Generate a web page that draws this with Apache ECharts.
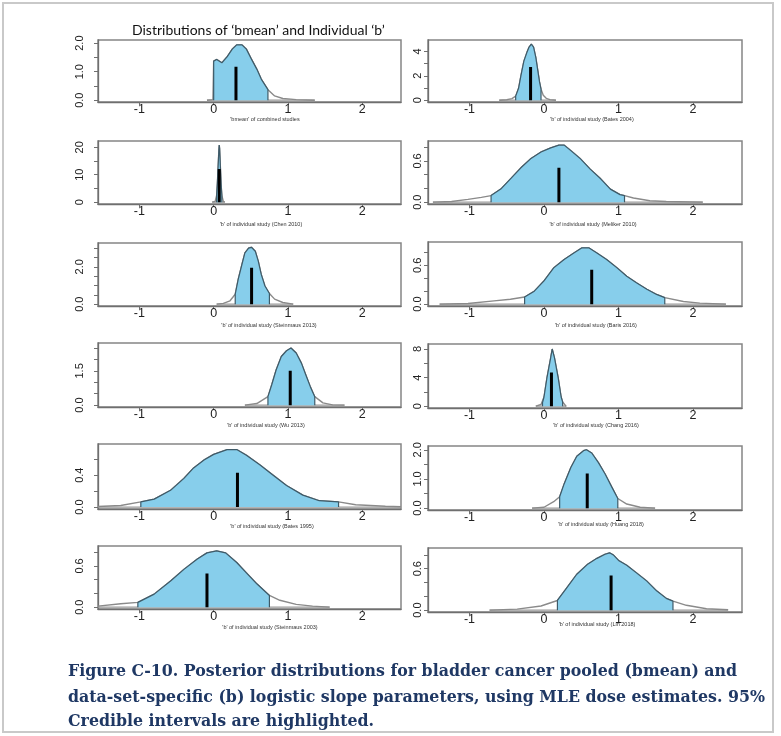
<!DOCTYPE html>
<html>
<head>
<meta charset="utf-8">
<script src="https://cdn.jsdelivr.net/npm/echarts@6/dist/echarts.min.js"></script>
<style>
html, body { margin: 0; padding: 0; background: #fff; }
#chart { width: 781px; height: 736px; }
</style>
</head>
<body>
<div id="chart"></div>
<script>
// posterior densities: [b, density]
const bmeanDens = [[-0.09,0],[-0.01,0.02],[0,1.37],[0.04,1.43],[0.11,1.31],[0.18,1.52],[0.25,1.79],[0.31,1.94],[0.38,1.94],[0.44,1.79],[0.51,1.43],[0.58,1.09],[0.64,0.74],[0.73,0.37],[0.82,0.15],[0.93,0.06],[1.11,0.02],[1.36,0]];
const bates2004Dens = [[-0.6,0],[-0.5,0.04],[-0.43,0.13],[-0.38,0.33],[-0.34,1.0],[-0.31,2.0],[-0.27,3.2],[-0.23,3.9],[-0.2,4.35],[-0.17,4.59],[-0.14,4.35],[-0.11,3.5],[-0.08,2.3],[-0.06,1.5],[-0.04,0.9],[-0.01,0.4],[0.03,0.15],[0.08,0.05],[0.16,0]];
const chen2010Dens = [[-0.02,0],[0.02,0.3],[0.04,2.5],[0.05,7],[0.06,13],[0.07,19],[0.075,20.8],[0.08,19.5],[0.09,13],[0.1,6.5],[0.11,2.5],[0.13,0.3],[0.15,0]];
const meliker2010Dens = [[-1.49,0],[-1.24,0.01],[-1.02,0.04],[-0.84,0.07],[-0.71,0.096],[-0.58,0.19],[-0.44,0.35],[-0.31,0.5],[-0.18,0.63],[-0.04,0.73],[0.09,0.79],[0.2,0.83],[0.27,0.83],[0.36,0.75],[0.49,0.63],[0.62,0.48],[0.76,0.34],[0.89,0.19],[1.02,0.11],[1.08,0.096],[1.2,0.06],[1.42,0.02],[1.64,0.01],[2.13,0]];
const steinmaus2013Dens = [[0.04,0],[0.13,0.04],[0.22,0.18],[0.29,0.53],[0.33,1.33],[0.38,2.12],[0.42,2.74],[0.47,3.0],[0.51,3.04],[0.56,2.83],[0.6,2.3],[0.64,1.59],[0.69,0.97],[0.75,0.57],[0.82,0.27],[0.93,0.09],[1.07,0]];
const baris2016Dens = [[-1.4,0],[-1.02,0.01],[-0.67,0.05],[-0.45,0.075],[-0.26,0.11],[-0.13,0.2],[0,0.36],[0.13,0.56],[0.27,0.69],[0.4,0.79],[0.51,0.87],[0.6,0.87],[0.71,0.79],[0.84,0.69],[0.98,0.56],[1.11,0.43],[1.24,0.33],[1.38,0.23],[1.51,0.15],[1.62,0.1],[1.87,0.04],[2.09,0.015],[2.44,0]];
const wu2013Dens = [[0.42,0],[0.58,0.07],[0.73,0.37],[0.78,0.88],[0.84,1.54],[0.91,2.13],[0.98,2.38],[1.04,2.5],[1.11,2.28],[1.18,1.84],[1.24,1.32],[1.3,0.81],[1.36,0.37],[1.47,0.1],[1.6,0.01],[1.76,0]];
const chang2016Dens = [[-0.11,0],[-0.04,0.23],[-0.02,0.5],[0,1.28],[0.04,4.0],[0.09,6.8],[0.11,8.0],[0.14,6.8],[0.19,4.0],[0.23,1.28],[0.25,0.6],[0.29,0.05],[0.3,0]];
const bates1995Dens = [[-1.556,0.008],[-1.25,0.02],[-0.98,0.065],[-0.8,0.1],[-0.58,0.21],[-0.4,0.36],[-0.27,0.49],[-0.13,0.59],[0,0.66],[0.18,0.72],[0.31,0.72],[0.44,0.65],[0.62,0.53],[0.8,0.4],[0.98,0.27],[1.2,0.15],[1.42,0.08],[1.68,0.065],[1.91,0.03],[2.31,0.01],[2.52,0.005]];
const huang2018Dens = [[-0.16,0],[0,0.03],[0.13,0.22],[0.21,0.39],[0.27,0.83],[0.36,1.39],[0.44,1.78],[0.53,1.97],[0.57,2.0],[0.64,1.89],[0.73,1.56],[0.82,1.17],[0.91,0.72],[0.99,0.33],[1.11,0.14],[1.29,0.03],[1.49,0]];
const steinmaus2003Dens = [[-1.556,0.015],[-1.25,0.05],[-1.02,0.07],[-0.8,0.19],[-0.58,0.38],[-0.4,0.55],[-0.22,0.7],[-0.09,0.79],[0.04,0.82],[0.16,0.79],[0.31,0.65],[0.44,0.5],[0.58,0.34],[0.75,0.17],[0.89,0.1],[1.11,0.04],[1.33,0.015],[1.56,0]];
const lin2018Dens = [[-0.73,0],[-0.36,0.015],[-0.04,0.06],[0.18,0.14],[0.31,0.33],[0.44,0.52],[0.58,0.66],[0.71,0.75],[0.82,0.81],[0.88,0.83],[0.93,0.8],[1.0,0.72],[1.11,0.65],[1.24,0.54],[1.38,0.42],[1.51,0.28],[1.64,0.17],[1.73,0.13],[1.91,0.07],[2.18,0.02],[2.47,0.005]];

// 95% credible intervals [lo, hi]
const ciBounds = [[0,0.73],[-0.38,-0.04],[0.04,0.11],[-0.71,1.08],[0.29,0.75],[-0.26,1.62],[0.73,1.36],[-0.02,0.25],[-0.98,1.68],[0.21,0.99],[-1.02,0.75],[0.18,1.73]];
// black marker line [b, height]
const midLines = [[0.30,1.17],[-0.18,2.72],[0.075,12.1],[0.2,0.5],[0.51,1.95],[0.64,0.53],[1.03,1.5],[0.1,4.7],[0.32,0.43],[0.58,1.19],[-0.09,0.49],[0.9,0.5]];
// top of each panel's y range
const yTops = [2.11,4.93,22.3,0.89,3.27,0.96,2.72,8.7,0.79,2.13,0.89,0.9];
// y ticks and labelled ticks
const yTickSets = [[0,0.5,1,1.5,2],[0,1,2,3,4],[0,5,10,15,20],[0,0.2,0.4,0.6,0.8],[0,0.5,1,1.5,2,2.5,3],[0,0.2,0.4,0.6,0.8],[0,0.5,1,1.5,2,2.5],[0,2,4,6,8],[0,0.2,0.4,0.6],[0,0.5,1,1.5,2],[0,0.2,0.4,0.6,0.8],[0,0.2,0.4,0.6,0.8]];
const yLabelSets = [['0.0','1.0','2.0'],['0','2','4'],['0','10','20'],['0.0','0.6'],['0.0','2.0'],['0.0','0.6'],['0.0','1.5'],['0','4','8'],['0.0','0.4'],['0.0','1.0','2.0'],['0.0','0.6'],['0.0','0.6']];
const xTicks = [-1, 0, 1, 2];
const panelNames = [
  "'bmean' of combined studies", "'b' of individual study (Bates 2004)",
  "'b' of individual study (Chen 2010)", "'b' of individual study (Meliker 2010)",
  "'b' of individual study (Steinmaus 2013)", "'b' of individual study (Baris 2016)",
  "'b' of individual study (Wu 2013)", "'b' of individual study (Chang 2016)",
  "'b' of individual study (Bates 1995)", "'b' of individual study (Huang 2018)",
  "'b' of individual study (Steinmaus 2003)", "'b' of individual study (Lin 2018)"
];
const densities = [bmeanDens, bates2004Dens, chen2010Dens, meliker2010Dens, steinmaus2013Dens, baris2016Dens,
  wu2013Dens, chang2016Dens, bates1995Dens, huang2018Dens, steinmaus2003Dens, lin2018Dens];

const mainTitle = 'Distributions of \u2018bmean\u2019 and Individual \u2018b\u2019';
const captionLines = [
  'Figure C-10. Posterior distributions for bladder cancer pooled (bmean) and',
  'data-set-specific (b) logistic slope parameters, using MLE dose estimates. 95%',
  'Credible intervals are highlighted.'
];

// panel boxes (pixels)
const rowTopL = [40,141,243,343,444,546], rowBotL = [102,204,306,407,509,609];
const rowTopR = [40,141,242,344,446,548], rowBotR = [102,204,306,408,510,612];
const nameYL = [119,224,325,425,526,627], nameYR = [119,224,325,425,524,624];
const nameXL = [265,261,269,266,272,270], nameXR = [592,593,596,596,601,597];

const chart = echarts.init(document.getElementById('chart'));

const grids = [], xAxes = [], yAxes = [], series = [], texts = [];

densities.forEach((dens, i) => {
  const row = Math.floor(i / 2), right = i % 2 === 1;
  const top = right ? rowTopR[row] : rowTopL[row];
  const bot = right ? rowBotR[row] : rowBotL[row];
  grids.push({
    left: right ? 428 : 98, top: top, width: right ? 314 : 303, height: bot - top,
    show: true, borderColor: '#858585', borderWidth: 1.5
  });
  xAxes.push({
    type: 'value', gridIndex: i, min: -1.556, max: right ? 2.656 : 2.52,
    axisLine: { show: true, onZero: false, lineStyle: { color: '#6f6f6f', width: 1.3 } },
    axisTick: { show: true, customValues: xTicks, length: 3, lineStyle: { color: '#6f6f6f' } },
    axisLabel: { customValues: xTicks, fontSize: 12.5, color: '#222', margin: 1, fontFamily: 'Liberation Sans' },
    splitLine: { show: false }
  });
  const labels = yLabelSets[i];
  yAxes.push({
    type: 'value', gridIndex: i, min: -0.03 * yTops[i], max: yTops[i],
    axisLine: { show: true, onZero: false, lineStyle: { color: '#6f6f6f', width: 1.3 } },
    axisTick: { show: true, customValues: yTickSets[i], length: 4, lineStyle: { color: '#6f6f6f' } },
    axisLabel: {
      customValues: labels.map(Number), rotate: 90, fontSize: 11, color: '#222',
      margin: right ? 5 : 13, fontFamily: 'Liberation Sans',
      formatter: v => labels.find(s => Number(s) === v) || ''
    },
    splitLine: { show: false }
  });

  const [lo, hi] = ciBounds[i];
  const inside = dens.filter(p => p[0] >= lo && p[0] <= hi);
  const last = dens[dens.length - 1];
  series.push({
    type: 'line', xAxisIndex: i, yAxisIndex: i, data: [[dens[0][0], 0], [last[0], 0]],
    showSymbol: false, silent: true, lineStyle: { color: '#999', width: 1.3 }, z: 2
  });
  series.push({
    type: 'line', xAxisIndex: i, yAxisIndex: i, data: dens,
    showSymbol: false, silent: true, lineStyle: { color: '#8a8a8a', width: 1.4 }, z: 2
  });
  series.push({
    type: 'line', xAxisIndex: i, yAxisIndex: i, data: [[lo, 0]].concat(inside, [[hi, 0]]),
    showSymbol: false, silent: true,
    lineStyle: { color: '#3e5a68', width: 1.2 },
    areaStyle: { color: '#87CEEB', opacity: 1 }, z: 3
  });
  series.push({
    type: 'line', xAxisIndex: i, yAxisIndex: i, data: [[midLines[i][0], 0], midLines[i]],
    showSymbol: false, silent: true, lineStyle: { color: '#000', width: 3 }, z: 4
  });

  texts.push({
    type: 'text', silent: true,
    style: {
      text: panelNames[i], x: right ? nameXR[row] : nameXL[row], y: right ? nameYR[row] : nameYL[row],
      textAlign: 'center', textVerticalAlign: 'middle',
      font: '5.5px "Liberation Sans", sans-serif', fill: '#333'
    }
  });
});

texts.push({
  type: 'text', silent: true,
  style: { text: mainTitle, x: 132, y: 30, textVerticalAlign: 'middle', font: '14px Lato, sans-serif', fill: '#111' }
});
captionLines.forEach((line, k) => {
  texts.push({
    type: 'text', silent: true,
    style: {
      text: line, x: 68, y: [672, 698, 722][k], textVerticalAlign: 'middle',
      font: 'bold 15.8px "DejaVu Serif", serif', fill: '#1F3864'
    }
  });
});
texts.unshift({
  type: 'rect', silent: true, z: -10,
  shape: { x: 3, y: 3, width: 770, height: 729 },
  style: { fill: '#fff', stroke: '#c9c9c9', lineWidth: 2 }
});

chart.setOption({
  animation: false,
  backgroundColor: '#fff',
  grid: grids,
  xAxis: xAxes,
  yAxis: yAxes,
  series: series,
  graphic: { elements: texts }
});
</script>
</body>
</html>
